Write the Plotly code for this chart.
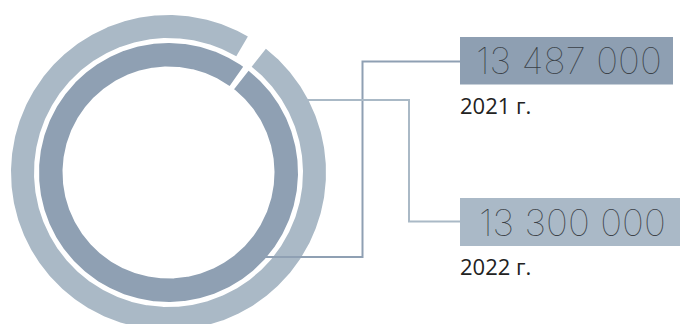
import numpy as np
import plotly.graph_objects as go

# Population figures by year
years = ["2021 г.", "2022 г."]
values = [13_487_000, 13_300_000]
scale_max = 13_600_000  # value that corresponds to a full circle

# Styling per ring: 2021 is the inner, darker ring; 2022 the outer, lighter one
ring_colors = ["#8fa0b3", "#aab9c6"]
box_colors = ["#8e9fb2", "#aab9c7"]
ring_radii = [(106, 129.5), (134.5, 157.5)]
cx, cy = 168.5, 172.5
start_deg = 38.2

W, H = 684, 324


def ring_polygon(value, r_in, r_out):
    sweep = value / scale_max * 360.0
    t = np.radians(np.linspace(start_deg, start_deg + sweep, 720))
    xs = np.concatenate([cx + r_out * np.sin(t), cx + r_in * np.sin(t[::-1])])
    ys = np.concatenate([cy - r_out * np.cos(t), cy - r_in * np.cos(t[::-1])])
    return np.append(xs, xs[0]), np.append(ys, ys[0])


fig = go.Figure()
for val, (r_in, r_out), col, yr in zip(values, ring_radii, ring_colors, years):
    xs, ys = ring_polygon(val, r_in, r_out)
    fig.add_trace(go.Scatter(
        x=xs, y=ys, mode="lines", fill="toself", fillcolor=col,
        line=dict(width=0, color=col), hoverinfo="skip", name=yr,
        showlegend=False,
    ))

# Leader lines from the rings to the value boxes
leaders = [
    [(265, 257), (362.5, 257), (362.5, 61.5), (460, 61.5)],
    [(305, 100), (409, 100), (409, 221.5), (460, 221.5)],
]
# Value boxes (x0, x1, y0, y1)
boxes = [(460, 673, 37, 84.5), (460, 680, 198, 246)]
year_y = [105, 265.5]

shapes = []
annotations = []
for i in range(len(values)):
    pts = leaders[i]
    path = "M " + " L ".join(f"{x},{y}" for x, y in pts)
    shapes.append(dict(type="path", path=path, xref="x", yref="y",
                       line=dict(color=ring_colors[i], width=2), layer="above"))
    x0, x1, y0, y1 = boxes[i]
    shapes.append(dict(type="rect", x0=x0, x1=x1, y0=y0, y1=y1, xref="x", yref="y",
                       fillcolor=box_colors[i], line=dict(width=0), layer="above"))
    label = f"{values[i]:,}".replace(",", " ")
    annotations.append(dict(
        x=(x0 + x1) / 2 + 2, y=(y0 + y1) / 2, xref="x", yref="y", text=label,
        showarrow=False, xanchor="center", yanchor="middle",
        font=dict(family="Inter", size=37, weight=100, color="#3a3f46"),
    ))
    annotations.append(dict(
        x=458, y=year_y[i], xref="x", yref="y", text=years[i],
        showarrow=False, xanchor="left", yanchor="middle",
        font=dict(family="Open Sans", size=22, color="#222222"),
    ))

fig.update_layout(
    width=W, height=H,
    margin=dict(l=0, r=0, t=0, b=0),
    paper_bgcolor="white", plot_bgcolor="white",
    xaxis=dict(range=[0, W], visible=False, fixedrange=True),
    yaxis=dict(range=[H, 0], visible=False, fixedrange=True),
    shapes=shapes, annotations=annotations,
    showlegend=False,
)

fig.write_html("out.html")
